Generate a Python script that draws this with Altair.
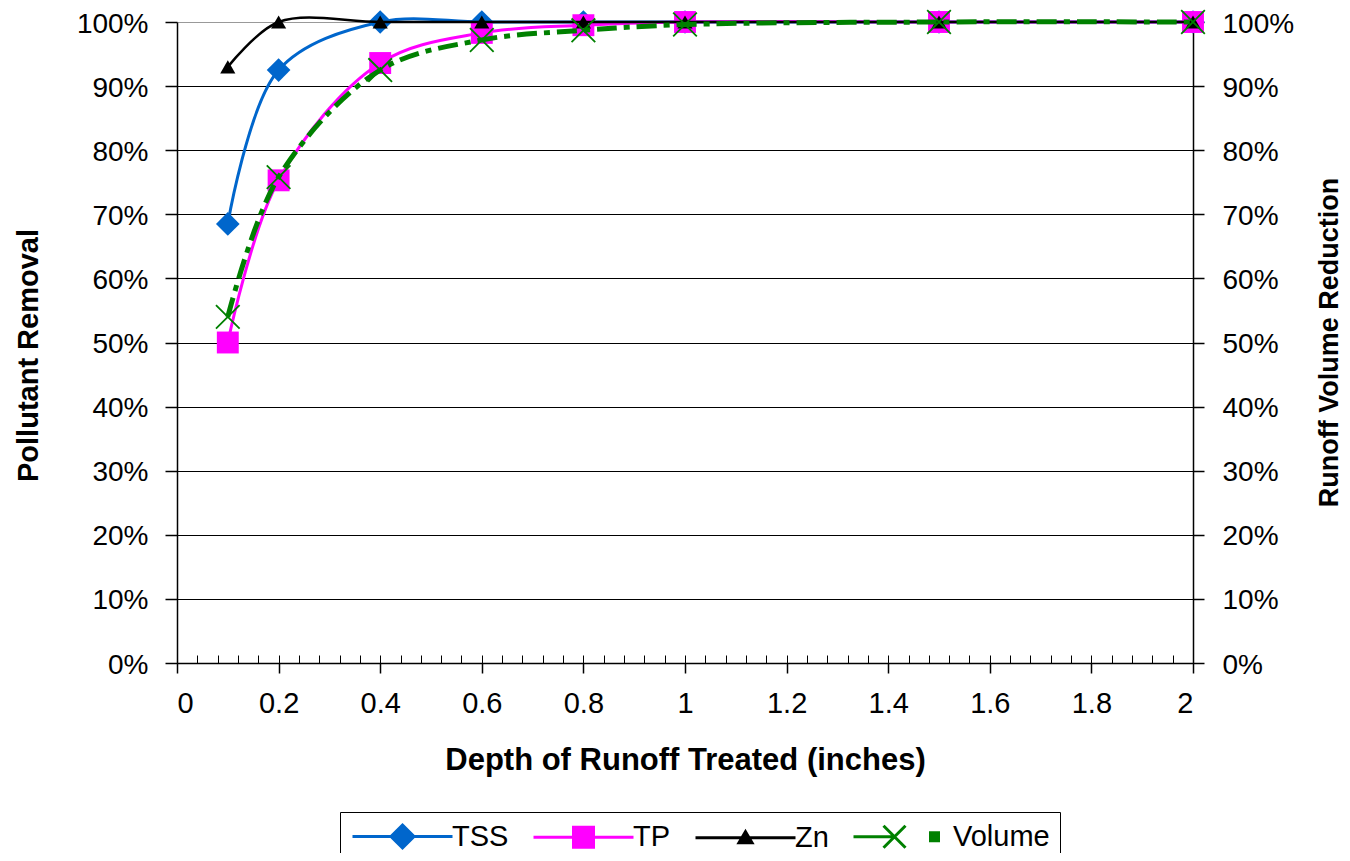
import altair as alt
import pandas as pd

# ---- data ----
depth = [0.1, 0.2, 0.4, 0.6, 0.8, 1.0, 1.5, 2.0]
tss = [0.685, 0.925, 1.0, 1.0, 1.0, 1.0, 1.0, 1.0]
tp = [0.50, 0.753, 0.936, 0.983, 0.995, 1.0, 1.0, 1.0]
zn = [0.93, 1.0, 1.0, 1.0, 1.0, 1.0, 1.0, 1.0]
volume = [0.54, 0.758, 0.925, 0.972, 0.987, 0.996, 1.0, 1.0]

series_names = ["TSS", "TP", "Zn", "Volume"]
series_colors = ["#0066CC", "#FF00FF", "#000000", "#008000"]

x_major = [round(i * 0.2, 1) for i in range(11)]
x_minor = [round(i * 0.04, 2) for i in range(51)]
y_ticks = [round(i * 0.1, 1) for i in range(11)]

records = []
for name, vals in zip(series_names, [tss, tp, zn, volume]):
    for d, v in zip(depth, vals):
        records.append({"depth": d, "value": v, "series": name})
df = pd.DataFrame(records)

FONT = "Liberation Sans"


def X(axis=None):
    return alt.X("depth:Q", scale=alt.Scale(domain=[0, 2], nice=False, zero=False), axis=axis)


def Y(axis=None):
    return alt.Y("value:Q", scale=alt.Scale(domain=[0, 1], nice=False), axis=axis)


x_axis = alt.Axis(
    values=x_major, format="~g", title="Depth of Runoff Treated (inches)", grid=False,
    domainColor="black", domainWidth=1.5, tickColor="black", tickWidth=1.5, tickSize=10,
    labelFont=FONT, labelFontSize=29, labelColor="black", labelPadding=16,
    titleFont=FONT, titleFontSize=31, titleFontWeight="bold", titleColor="black",
    titleX=508, titleY=106, titleBaseline="alphabetic", titleAlign="center",
)
x_minor_axis = alt.Axis(
    values=x_minor, labels=False, domain=False, grid=False, title=None,
    tickColor="black", tickWidth=1, tickSize=8, offset=-8, orient="bottom",
)
y_left = alt.Axis(
    values=y_ticks, format=".0%", orient="left", title="Pollutant Removal",
    grid=True, gridColor={"condition": {"test": "datum.value >= 1", "value": "#999999"}, "value": "black"},
    gridWidth=1, domainColor="black", domainWidth=1.5, tickColor="black", tickWidth=1.5, tickSize=12,
    labelFont=FONT, labelFontSize=28, labelColor="black", labelPadding=17, labelOffset=2,
    titleFont=FONT, titleFontSize=29, titleFontWeight="bold", titleColor="black",
    titleAngle=270, titleX=-149, titleY=333, titleAlign="center", titleBaseline="middle",
)
y_right = alt.Axis(
    values=y_ticks, format=".0%", orient="right", title="Runoff Volume Reduction", grid=False,
    domainColor="black", domainWidth=1.5, tickColor="black", tickWidth=1.5, tickSize=11,
    labelFont=FONT, labelFontSize=28, labelColor="black", labelPadding=18, labelOffset=2,
    titleFont=FONT, titleFontSize=27, titleFontWeight="bold", titleColor="black",
    titleAngle=270, titleX=144, titleY=320, titleAlign="center", titleBaseline="alphabetic",
)

base = alt.Chart(df)


def sel(name):
    return base.transform_filter(alt.datum.series == name)


tss_line = sel("TSS").mark_line(color="#0066CC", strokeWidth=3, interpolate="catmull-rom").encode(
    x=X(x_axis), y=Y(y_left))
tss_pts = sel("TSS").mark_point(shape="diamond", filled=True, size=560, opacity=1, color="#0066CC").encode(
    x=X(), y=Y())
tp_line = sel("TP").mark_line(color="#FF00FF", strokeWidth=3, interpolate="catmull-rom").encode(
    x=X(x_minor_axis), y=Y())
tp_pts = sel("TP").mark_point(shape="square", filled=True, size=480, opacity=1, color="#FF00FF").encode(
    x=X(), y=Y())
zn_line = sel("Zn").mark_line(color="#000000", strokeWidth=2.5, interpolate="catmull-rom").encode(
    x=X(), y=Y())
zn_pts = sel("Zn").mark_point(shape="triangle-up", filled=True, size=230, opacity=1, color="#000000").encode(
    x=X(), y=Y())
vol_line = sel("Volume").mark_line(color="#008000", strokeWidth=5, strokeDash=[20, 7, 6, 7],
                                   interpolate="catmull-rom").encode(x=X(), y=Y(y_right))
vol_pts = sel("Volume").mark_point(shape="M-1,-1L1,1M-1,1L1,-1", filled=False, size=560, opacity=1,
                                   strokeWidth=1.8, color="#008000").encode(x=X(), y=Y())

legend_paths = [
    "M-5,0H5M0,-1.15L1.15,0L0,1.15L-1.15,0Z",
    "M-5,0H5M-1,-1H1V1H-1Z",
    "M-5,0H5M0,-0.6L0.65,0.5H-0.65Z",
    "M-5,0H-0.9M-2,-1.1L0.2,1.1M-2,1.1L0.2,-1.1M2.7,-0.4H3.5V0.4H2.7Z",
]
legend = alt.Legend(
    title=None, orient="none", legendX=163, legendY=790, direction="horizontal", columns=4,
    labelFont=FONT, labelFontSize=29, labelColor="black", symbolSize=400, symbolStrokeWidth=3,
    symbolOffset=38, labelOffset=35, columnPadding=18, padding=10,
    strokeColor="black", fillColor="white",
)
legend_layer = base.transform_filter("false").mark_point(
    filled=True, opacity=1, strokeWidth=3, size=400
).encode(
    fill=alt.Fill("series:N", scale=alt.Scale(domain=series_names, range=series_colors), legend=legend),
    stroke=alt.Stroke("series:N", scale=alt.Scale(domain=series_names, range=series_colors), legend=legend),
    shape=alt.Shape("series:N", scale=alt.Scale(domain=series_names, range=legend_paths), legend=legend),
)

chart = alt.layer(
    tss_line, tss_pts, tp_line, tp_pts, zn_line, zn_pts, vol_line, vol_pts, legend_layer
).resolve_scale(
    x="independent", y="independent"
).properties(
    width=1016, height=641,
    autosize=alt.AutoSizeParams(type="none"),
    padding={"left": 169, "top": 14, "right": 149, "bottom": 190},
    background="white",
).configure_view(stroke=None)

chart.save("out.html", embed_options={"renderer": "svg", "actions": False})
